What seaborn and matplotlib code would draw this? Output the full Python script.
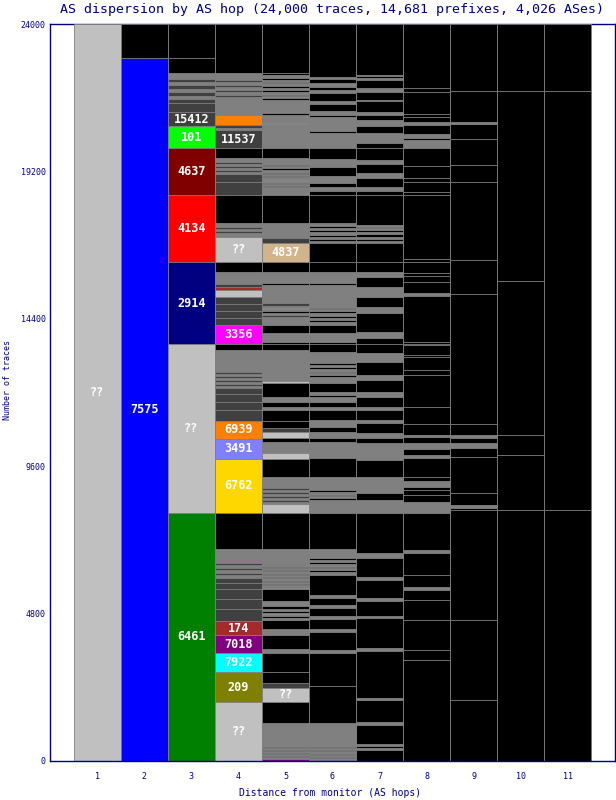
import matplotlib
matplotlib.use("Agg")
import matplotlib.pyplot as plt
import seaborn as sns
import pandas as pd

# AS hop columns, each one a stack of trace counts from bottom to top
hops = [1, 2, 3, 4, 5, 6, 7, 8, 9, 10, 11]

hop1_counts = [24000]
hop1_as = ['??']

hop2_counts = [22892, 1108]
hop2_as = ['7575', 'k']

hop3_counts = [8076, 5503, 2670, 2182, 1531, 716, 456, 293,
               130, 98, 130, 98, 130, 98, 98, 195, 488, 1108]
hop3_as = ['6461', '??', '2914', '4134', '4637', '101', '15412', 'd',
           'd', 'g', 'd', 'g', 'd', 'g', 'd', 'g', 'k', 'k']

hop4_counts = [1921, 977, 619, 586, 456, 391, 326, 326, 195, 163,
               98, 65, 98, 65, 98, 65, 65, 33, 358, 1172,
               1758, 651, 586, 358, 261, 261, 195,
               65, 65, 65, 65, 65, 65, 65, 65, 716, 195,
               619, 228, 228, 228, 228, 228, 98, 98, 391, 326,
               814, 130, 65, 65, 65, 130, 912,
               423, 261, 65, 65, 65, 65, 65, 65, 130, 326,
               586, 65, 98, 326, 488,
               98, 65, 98, 65, 98, 65, 98, 65, 228, 1596]
hop4_as = ['??', '209', '7922', '7018', '174', 'd', 'd', 'd', 'd', 'd',
           'g', 'd', 'g', 'd', 'g', 'd', 'g', '3356', 'g', 'k',
           '6762', '3491', '6939', 'd', 'd', 'd', 'd',
           'g', 'd', 'g', 'd', 'g', 'd', 'g', 'd', 'g', 'k',
           '3356', 'd', 'd', 'd', 'd', '??', '174', 'd', 'g', 'k',
           '??', 'g', 'd', 'g', 'd', 'g', 'k',
           'd', 'd', 'g', 'd', 'g', 'd', 'g', 'd', 'g', 'k',
           '11537', 'g', 'd', '6939', 'g',
           'g', 'd', 'g', 'd', 'g', 'd', 'g', 'd', 'g', 'k']

hop5_counts = [65, 65, 33, 65, 33, 65, 33, 65, 33, 130,
               651, 684, 456, 163, 358, 619, 130, 456, 195, 293,
               65, 65, 65, 33, 65, 65, 98, 163, 391, 33,
               98, 33, 65, 33, 98, 33, 65, 33, 98, 33, 65, 33, 163, 423, 1169,
               293, 65, 65, 65, 65, 65, 65, 65, 65,
               358, 586, 195, 358, 130, 195, 130, 228, 358, 98, 163, 163, 456, 65, 293, 716, 195,
               65, 293, 261, 261, 65, 65, 65, 65, 33, 65, 98, 586, 65, 358, 326,
               619, 163, 488, 912,
               261, 33, 65, 33, 65, 33, 98, 33, 65, 33, 98, 65, 65, 33, 65, 163, 326,
               586, 195, 33, 261, 65, 423, 65, 65, 33, 98, 65, 65, 65, 98, 33, 65, 65, 98, 65, 1596]
hop5_as = ['7018', 'g', 'k', 'g', 'k', 'g', 'k', 'g', 'k', 'g',
           'g', 'k', '??', 'd', 'k', 'k', 'g', 'k', 'g', 'k',
           'g', 'k', 'g', '??', 'k', 'g', 'k', 'g', 'k', '??',
           'g', 'k', 'g', 'k', 'g', 'k', 'g', 'k', 'g', 'k', 'g', 'k', 'g', 'g', 'k',
           '??', 'g', 'd', 'g', 'd', 'g', 'd', 'g', 'd',
           'g', 'k', '??', 'g', 'k', '??', 'd', 'k', 'k', 'g', 'k', 'g', 'k', '??', 'g', 'g', 'k',
           'k', 'g', 'k', 'g', 'd', 'g', 'k', 'g', '??', 'g', 'd', 'g', 'k', 'g', 'k',
           '4837', 'd', 'g', 'k',
           'g', 'k', 'g', 'k', 'g', '??', 'g', 'k', 'g', 'k', 'g', 'k', 'g', 'k', 'g', 'g', 'k',
           'g', 'g', '??', 'g', 'k', 'g', 'k', 'g', 'k', 'g', 'k', 'g', 'k', 'g', 'k', 'g', 'k', 'g', 'k', 'k']

hop6_counts = [98, 33, 65, 33, 98, 33, 65, 33, 65,
               716, 1205, 1075, 98, 586, 98, 326, 98, 261, 98, 228, 98, 651,
               98, 65, 65, 33, 98, 65, 65, 65, 98, 195, 1168,
               423, 65, 65, 33, 98, 65,
               423, 619, 521, 130, 195, 163, 228, 326, 98, 163, 163, 65, 98, 293, 195,
               65, 65, 33, 98, 65, 65, 65, 358, 261,
               65, 293, 261, 98, 65, 65, 65, 98, 65, 65, 33, 98, 651, 65, 358, 326,
               619, 65, 65, 65, 65, 98, 65, 65, 65, 98, 912,
               130, 130, 130, 228, 293, 261, 358,
               488, 65, 456, 65, 130, 228, 98, 261, 98, 98, 130, 130, 65, 1726]
hop6_as = ['g', 'k', 'g', 'k', 'g', 'k', 'g', 'k', 'g',
           'g', 'k', 'k', 'g', 'k', 'g', 'k', 'g', 'k', 'g', 'k', 'g', 'k',
           'g', 'k', 'g', 'k', 'g', 'k', 'g', 'k', 'g', 'g', 'k',
           'g', 'k', 'g', 'k', 'g', 'k',
           'g', 'k', 'g', 'k', 'g', 'k', 'g', 'k', 'g', 'k', 'g', 'k', 'g', 'k', 'g',
           'k', 'g', 'k', 'g', 'k', 'g', 'k', 'g', 'k',
           'k', 'g', 'k', 'g', 'k', 'g', 'k', 'g', 'k', 'g', 'k', 'g', 'g', 'k', 'g', 'k',
           'k', 'g', 'k', 'g', 'k', 'g', 'k', 'g', 'k', 'g', 'k',
           'k', 'g', 'k', 'g', 'k', 'g', 'k',
           'g', 'k', 'g', 'k', 'g', 'k', 'g', 'k', 'g', 'k', 'g', 'k', 'g', 'k']

hop7_counts = [358, 65, 65, 65, 619, 98, 716, 65, 1531, 98, 977, 65, 488, 98, 586, 98, 619, 163, 1303,
               423, 228, 521, 554, 554, 163, 163, 326, 98, 326, 98, 326, 163, 391, 163, 423, 293, 293,
               195, 195, 619, 195, 326, 326, 326, 163, 326,
               619, 65, 65, 65, 98, 65, 65, 65, 33, 65, 977,
               130, 130, 293, 163, 293, 130, 391,
               163, 326, 228, 195, 163, 98, 358, 33, 261, 130, 261, 65, 65, 33, 1661]
hop7_as = ['k', 'g', 'k', 'g', 'k', 'g', 'k', 'g', 'k', 'g', 'k', 'g', 'k', 'g', 'k', 'g', 'k', 'g', 'k',
           'g', 'k', 'g', 'k', 'g', 'k', 'g', 'k', 'g', 'k', 'g', 'k', 'g', 'k', 'g', 'k', 'g', 'k',
           'k', 'g', 'k', 'g', 'k', 'g', 'k', 'g', 'k',
           'k', 'g', 'k', 'g', 'k', 'g', 'k', 'g', 'k', 'g', 'k',
           'k', 'g', 'k', 'g', 'k', 'g', 'k',
           'k', 'g', 'k', 'g', 'k', 'g', 'k', 'g', 'k', 'g', 'k', 'g', 'k', 'g', 'k']

hop8_counts = [3289, 326, 977, 651, 326, 98, 391, 716, 98, 1205,
               358, 228, 163, 98, 195, 130, 619, 98, 195, 195, 195, 65, 358, 554, 1042, 163, 423, 65, 326, 33,
               65, 1498, 98, 358, 195, 98, 358,
               98, 2084,
               98, 326, 130, 391, 586,
               261, 65, 130, 293, 98, 163, 98, 716, 130, 2084]
hop8_as = ['k', 'k', 'k', 'k', 'k', 'g', 'k', 'k', 'g', 'k',
           'g', 'k', 'k', 'k', 'g', 'k', 'k', 'g', 'k', 'g', 'k', 'g', 'k', 'k', 'k', 'k', 'k', 'k', 'k', 'k',
           'k', 'k', 'g', 'k', 'k', 'k', 'k',
           'k', 'k',
           'k', 'k', 'k', 'k', 'k',
           'g', 'k', 'g', 'k', 'g', 'k', 'k', 'k', 'k', 'k']

hop9_counts = [1986, 2605, 3582, 65, 98, 391, 1172, 293, 163, 163, 98,
               358, 4233, 1107, 2540, 554, 847, 488, 65, 1009, 2182]
hop9_as = ['k', 'k', 'k', 'k', 'g', 'k', 'k', 'k', 'g', 'k', 'g',
           'k', 'k', 'k', 'k', 'k', 'k', 'k', 'g', 'k', 'k']

hop10_counts = [8174, 1791, 651, 5015, 6187, 2182]
hop10_as = ['k', 'k', 'k', 'k', 'k', 'k']

hop11_counts = [8174, 13644, 2182]
hop11_as = ['k', 'k', 'k']

y_ticks = [0, 4800, 9600, 14400, 19200, 24000]
title = 'AS dispersion by AS hop (24,000 traces, 14,681 prefixes, 4,026 ASes)'

as_colours = {'??': '#C0C0C0', 'k': '#000000', 'g': '#808080', 'd': '#404040',
              '7575': '#0000FF', '6461': '#008000', '2914': '#000080', '4134': '#FF0000',
              '4637': '#800000', '101': '#00FF00', '15412': '#404040', '11537': '#404040',
              '3356': '#FF00FF', '6939': '#FF8000', '3491': '#8080FF', '6762': '#FFD700',
              '174': '#A52A2A', '7018': '#800080', '7922': '#00FFFF', '209': '#808000',
              '4837': '#D2B48C'}
navy = '#000080'

columns = [(hop1_counts, hop1_as), (hop2_counts, hop2_as), (hop3_counts, hop3_as),
           (hop4_counts, hop4_as), (hop5_counts, hop5_as), (hop6_counts, hop6_as),
           (hop7_counts, hop7_as), (hop8_counts, hop8_as), (hop9_counts, hop9_as),
           (hop10_counts, hop10_as), (hop11_counts, hop11_as)]

rows = []
for hop, (counts, ases) in zip(hops, columns):
    bottom = 0
    for i, (c, a) in enumerate(zip(counts, ases)):
        rows.append(dict(hop=hop, seg=f'{hop}-{i}', asn=a, count=c, bottom=bottom, top=bottom + c))
        bottom += c
seg = pd.DataFrame(rows)
# layer 0 = top segment of each column; stacks are drawn as cumulative bars, top first
seg['layer'] = seg.groupby('hop').cumcount(ascending=False)
palette = dict(zip(seg.seg, seg.asn.map(as_colours)))

sns.set_style('white')
plt.rcParams['font.family'] = ['DejaVu Sans Mono']

fig = plt.figure(figsize=(6.16, 8), dpi=100)
ax = fig.add_axes([50 / 616, 39 / 800, 565 / 616, 737 / 800])

for layer, part in seg.groupby('layer'):
    sns.barplot(data=part, x='hop', y='top', hue='seg', palette=palette, order=hops,
                hue_order=list(part.seg), dodge=False, width=1, saturation=1,
                edgecolor='#808080', linewidth=0.6, errorbar=None, legend=False, ax=ax)

# AS labels on the big blocks
for _, r in seg.iterrows():
    if r.asn in ('k', 'g', 'd') or r['count'] < 400:
        continue
    ax.text(hops.index(r.hop), r.bottom + r['count'] / 2, r.asn, color='white',
            fontsize=8.5, fontweight='bold', ha='center', va='center', zorder=5)

ax.set_xlim(-1, 11)
ax.set_ylim(0, 24000)
ax.set_facecolor('white')
ax.set_yticks(y_ticks)
ax.set_yticklabels([str(t) for t in y_ticks])
ax.set_xticks(range(len(hops)))
ax.set_xticklabels([str(h) for h in hops])
ax.set_xlabel('')
ax.set_ylabel('')
ax.tick_params(axis='y', direction='in', length=3, width=1, colors=navy, labelsize=6, pad=3)
ax.tick_params(axis='x', length=0, colors=navy, labelsize=6, pad=8)
for side, sp in ax.spines.items():
    sp.set_visible(True)
    sp.set_color(navy)
    sp.set_linewidth(1.0)
ax.spines['top'].set_zorder(0.5)

fig.text(332 / 616, 1 - 9 / 800, title, color=navy, fontsize=9.5, ha='center', va='center')
fig.text(330 / 616, 1 - 793 / 800, 'Distance from monitor (AS hops)', color=navy,
         fontsize=7, ha='center', va='center')
fig.text(8 / 616, 1 - 380 / 800, 'Number of traces', color=navy, fontsize=6,
         rotation=90, ha='center', va='center')

fig.savefig('out.png', dpi=100)
